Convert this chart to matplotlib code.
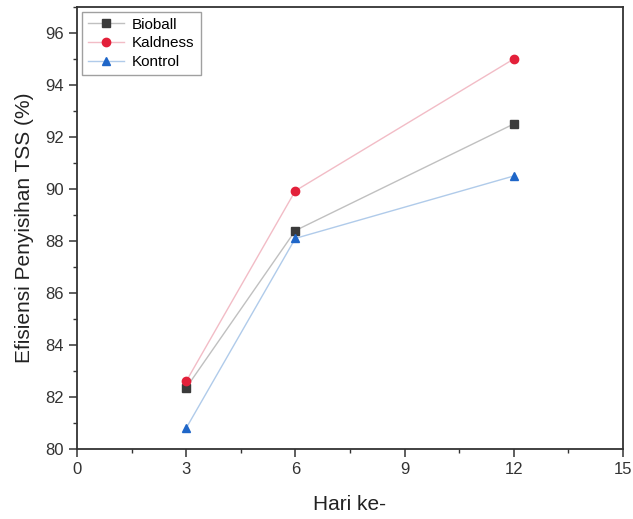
import matplotlib
matplotlib.use("Agg")
import matplotlib.pyplot as plt
from matplotlib.ticker import MultipleLocator

plt.rcParams['font.family'] = ['Liberation Sans', 'DejaVu Sans']

days = [3, 6, 12]
bioball = [82.35, 88.4, 92.5]
kaldness = [82.6, 89.93, 95.0]
kontrol = [80.8, 88.1, 90.5]
series_names = ["Bioball", "Kaldness", "Kontrol"]
colors = ["#3a3a3a", "#e3203a", "#1f66c8"]
line_colors = ["#c0c0c0", "#f2bcc6", "#b0cbea"]
markers = ["s", "o", "^"]

fig = plt.figure(figsize=(6.33, 5.19), dpi=100)
ax = fig.add_axes([0.1216, 0.1349, 0.8624, 0.8516])

for vals, name, c, lc, m in zip([bioball, kaldness, kontrol], series_names, colors, line_colors, markers):
    ax.plot(days, vals, color=lc, lw=1.0, zorder=2)
    ax.plot(days, vals, linestyle='none', marker=m, color=c, markersize=6, zorder=3)
    ax.plot([], [], color=lc, lw=1.0, marker=m, markerfacecolor=c, markeredgecolor=c,
            markersize=6, label=name)

ax.set_xlim(0, 15)
ax.set_ylim(80, 97)
ax.xaxis.set_major_locator(MultipleLocator(3))
ax.xaxis.set_minor_locator(MultipleLocator(1.5))
ax.yaxis.set_major_locator(MultipleLocator(2))
ax.yaxis.set_minor_locator(MultipleLocator(1))

for sp in ax.spines.values():
    sp.set_color("#333333")
    sp.set_linewidth(1.3)

ax.tick_params(axis='both', which='major', direction='out', length=6, width=1.1,
               colors="#333333", labelsize=12, labelcolor="#333333")
ax.tick_params(axis='both', which='minor', direction='out', length=3, width=1.0, colors="#333333")

ax.set_xlabel("Hari ke-", fontsize=15, color="#222222", labelpad=13)
ax.set_ylabel("Efisiensi Penyisihan TSS (%)", fontsize=15, color="#222222", labelpad=8)

handles, labels = [], []
for h in ax.get_lines():
    if h.get_label() in series_names:
        handles.append(h)
        labels.append(h.get_label())
leg = ax.legend(handles, labels, loc='upper left', fontsize=11, frameon=True,
                fancybox=False, edgecolor="#888888", borderpad=0.4, labelspacing=0.3,
                handlelength=2.4, handletextpad=0.5, borderaxespad=0.3)
leg.get_frame().set_linewidth(1.0)

fig.savefig("out.png", dpi=100)
